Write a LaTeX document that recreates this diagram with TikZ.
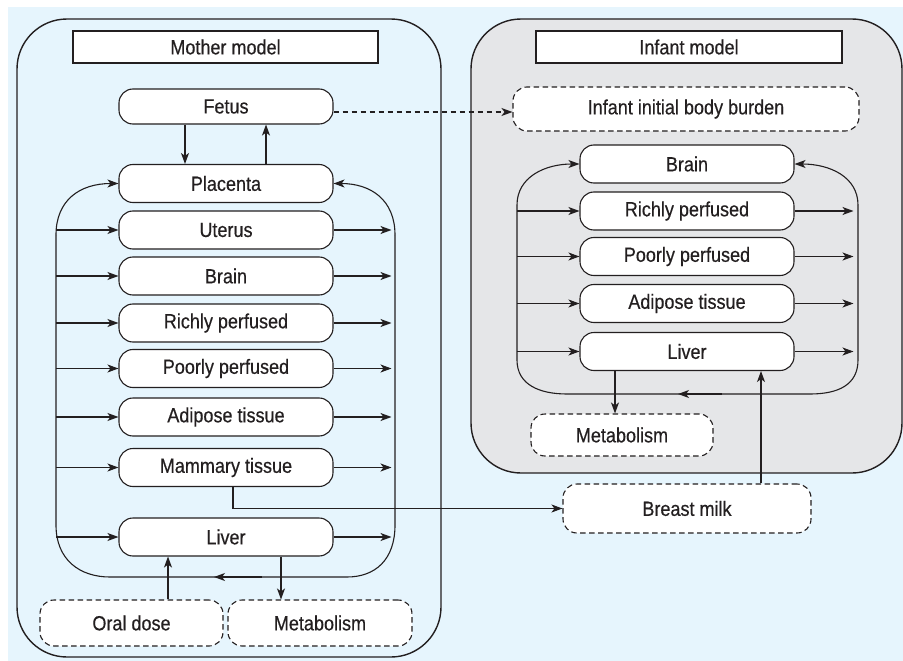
\documentclass[tikz,border=0pt]{standalone}
\usepackage{fontspec}
\setmainfont{Liberation Sans}[FakeStretch=0.88,FakeBold=0.4]
\usetikzlibrary{arrows.meta}
\definecolor{bgblue}{HTML}{E6F5FD}
\definecolor{infgray}{HTML}{E5E6E8}
\definecolor{ink}{HTML}{231F20}
\begin{document}
\begin{tikzpicture}[x=1pt,y=-1pt,
  font=\fontsize{20.5}{24}\selectfont,
  organ/.style={draw=ink, fill=white, rounded corners=14pt, minimum width=214pt, minimum height=38pt, line width=1.1pt, text=ink, inner sep=0pt},
  ext/.style={organ, dash pattern=on 5.5pt off 3.5pt},
  title/.style={draw=ink, fill=white, line width=1.3pt, minimum height=32pt, text=ink, inner sep=0pt},
  arr/.style={draw=ink, line width=1.1pt, -{Stealth[length=11pt,width=8pt,inset=3pt]}},
  flow/.style={draw=ink, line width=1.1pt},
  outer/.style={draw=ink, line width=1.4pt, rounded corners=50pt}]
\useasboundingbox (0,0) rectangle (903,661);
\fill[bgblue] (8,7) rectangle (903,661);
% outer model boxes
\draw[outer] (17,19) rectangle (441,657);
\draw[outer, fill=infgray] (471,19) rectangle (902,473);

% helper coordinates
\coordinate (mL) at (56,0);
\coordinate (mR) at (395,0);
\coordinate (iL) at (517,0);
\coordinate (iR) at (858,0);
\coordinate (fa) at (185,0);
\coordinate (fb) at (266,0);
\coordinate (oa) at (168,0);
\coordinate (ob) at (281,0);
\coordinate (ma) at (233,0);
\coordinate (ba) at (761,0);
\coordinate (ia) at (615,0);
\coordinate (dy) at (0,112);

% Mother nodes
\node[title, minimum width=305pt] (mtitle) at (225.5,47) {Mother model};
\node[organ, minimum height=35pt] (fetus) at (226,106.5) {Fetus};
\node[organ] (placenta) at (226,183.5) {Placenta};
\node[organ] (uterus) at (226,230) {Uterus};
\node[organ] (brain) at (226,276) {Brain};
\node[organ] (richly) at (226,323) {Richly perfused};
\node[organ] (poorly) at (226,368.5) {Poorly perfused};
\node[organ] (adipose) at (226,417) {Adipose tissue};
\node[organ] (mammary) at (226,467.5) {Mammary tissue};
\node[organ] (liver) at (226,537) {Liver};
\node[ext, minimum width=183pt, minimum height=46pt] (oral) at (131.5,623) {Oral dose};
\node[ext, minimum width=184pt, minimum height=46pt] (mmetab) at (320,623) {Metabolism};

% Infant nodes
\node[title, minimum width=306pt] (ititle) at (689,47) {Infant model};
\node[ext, minimum width=346pt, minimum height=44pt] (iibb) at (686,109) {Infant initial body burden};
\node[organ] (ibrain) at (687,164) {Brain};
\node[organ] (irichly) at (687,211) {Richly perfused};
\node[organ] (ipoorly) at (687,256.5) {Poorly perfused};
\node[organ] (iadipose) at (687,303.5) {Adipose tissue};
\node[organ] (iliver) at (687,351.5) {Liver};
\node[ext, minimum width=182pt, minimum height=42pt] (imetab) at (622,435) {Metabolism};
\node[ext, minimum width=248pt, minimum height=49pt] (bmilk) at (687,508.5) {Breast milk};

% Mother circulation loop
\draw[arr] (56,235) .. controls (56,200) and (80,183.5) .. (placenta.west);
\draw[arr] (395,235) .. controls (395,200) and (371,183.5) .. (placenta.east);
\draw[flow] (56,235) -- (56,525) .. controls (56,560) and (80,577) .. (110,577) -- (347,577) .. controls (375,577) and (395,560) .. (395,525) -- (395,235);
\draw[arr] (262,577) -- (214,577);
\foreach \n in {uterus,brain,richly,poorly,adipose,mammary,liver}{
  \draw[arr] (\n.west -| mL) -- (\n.west);
  \draw[arr, shorten >=3.5pt] (\n.east) -- (\n.east -| mR);
}

% Infant circulation loop
\draw[arr] (517,205) .. controls (517,177) and (545,164) .. (ibrain.west);
\draw[arr] (858,205) .. controls (858,177) and (830,164) .. (ibrain.east);
\draw[flow] (517,205) -- (517,360) .. controls (517,385) and (540,394) .. (567,394) -- (810,394) .. controls (838,394) and (858,385) .. (858,360) -- (858,205);
\draw[arr] (722,394) -- (678,394);
\foreach \n in {irichly,ipoorly,iadipose,iliver}{
  \draw[arr] (\n.west -| iL) -- (\n.west);
  \draw[arr, shorten >=4.5pt] (\n.east) -- (\n.east -| iR);
}

% other connectors
\draw[arr] (fa |- fetus.south) -- (fa |- placenta.north);
\draw[arr] (fb |- placenta.north) -- (fb |- fetus.south);
\draw[arr] (oa |- oral.north) -- (oa |- liver.south);
\draw[arr] (ob |- liver.south) -- (ob |- mmetab.north);
\draw[arr] (ma |- mammary.south) |- (bmilk.west);
\draw[arr] (ba |- bmilk.north) -- (ba |- iliver.south);
\draw[arr] (ia |- iliver.south) -- (ia |- imetab.north);
\draw[arr, dash pattern=on 5.5pt off 3.5pt] (dy -| fetus.east) -- (dy -| iibb.west);
\end{tikzpicture}
\end{document}
